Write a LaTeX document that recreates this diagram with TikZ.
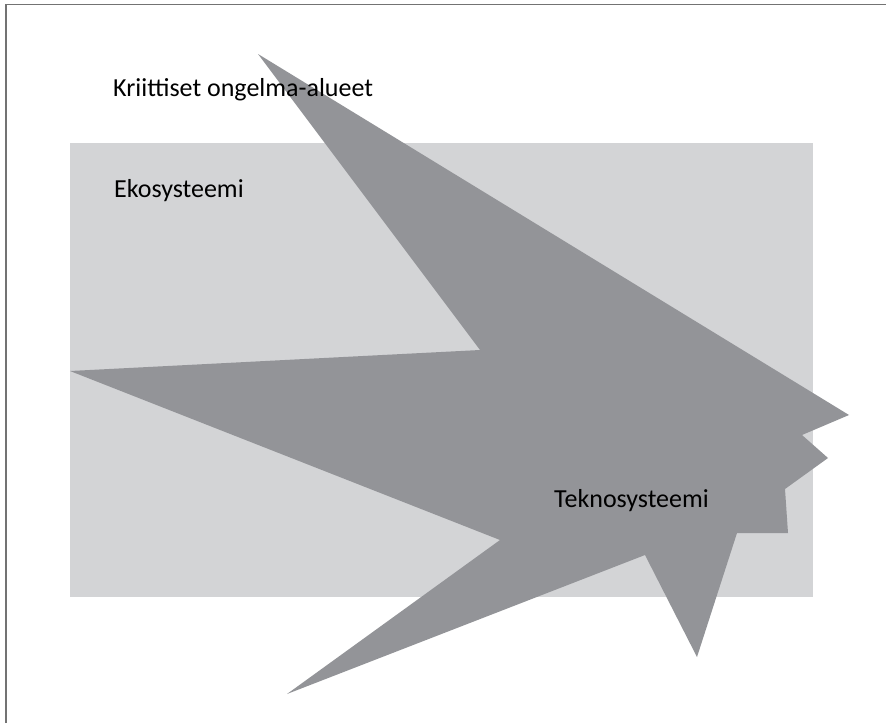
\documentclass[tikz,border=0pt]{standalone}
\usepackage{fontspec}
\setmainfont{Carlito}
\begin{document}
\begin{tikzpicture}[x=1pt,y=-1pt,
  frameline/.style={draw=black!55,line width=1.5pt},
  ecobox/.style={fill=eco,draw=none},
  techstar/.style={fill=tech,draw=none},
  label/.style={anchor=base west,inner sep=0pt,font=\fontsize{26}{30}\selectfont,text=black}]
\definecolor{eco}{HTML}{D3D4D6}
\definecolor{tech}{HTML}{939498}
\useasboundingbox (0,0) rectangle (886,723);
\fill[white] (0,0) rectangle (886,723);
% page frame (top and left edges)
\draw[frameline] (6,723) -- (6,4.7) -- (886,4.7);
% ecosystem area
\fill[ecobox] (70,143) rectangle (813,597);
% technosystem star
\fill[techstar] (258,54) -- (849,415) -- (802,435) -- (828,458) -- (785,489)
  -- (788,533) -- (737,533) -- (697,657) -- (645,555) -- (287,694)
  -- (500,540) -- (70,371) -- (480,350) -- cycle;
% labels
\node[label] (kriit) at (113,96.7) {Kriittiset ongelma-alueet};
\node[label] (eko) at (114,197.3) {Ekosysteemi};
\node[label] (tekno) at (554,507.3) {Teknosysteemi};
\end{tikzpicture}
\end{document}
